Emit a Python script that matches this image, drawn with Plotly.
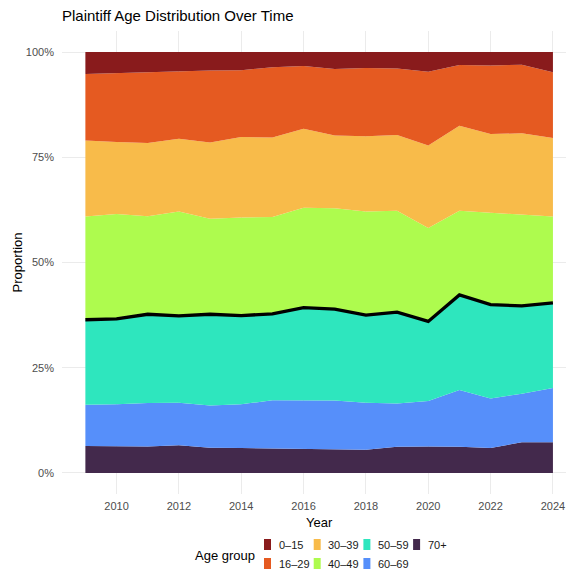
import numpy as np
import plotly.graph_objects as go

# datos (porcentaje por grupo de edad y anio)
years = list(range(2009, 2025))
groups = ["0–15", "16–29", "30–39", "40–49", "50–59", "60–69", "70+"]
colors = ["#891B1C", "#E55A21", "#F8BB4A", "#AEFB4E", "#2EE6BE", "#568FFA", "#43294C"]

g_0_15 = [5.2, 5.0, 4.7, 4.5, 4.4, 4.3, 3.6, 3.3, 4.0, 3.8, 3.9, 4.7, 3.1, 3.2, 3.0, 4.8]
g_16_29 = [15.8, 16.4, 16.9, 16.1, 17.1, 15.9, 16.7, 14.9, 15.8, 16.2, 15.8, 17.5, 14.4, 16.3, 16.3, 15.6]
g_30_39 = [18.1, 17.1, 17.4, 17.3, 18.1, 19.1, 18.9, 18.8, 17.3, 17.9, 18.0, 19.6, 20.2, 18.7, 19.3, 18.7]
g_40_49 = [24.5, 24.9, 23.3, 24.8, 22.7, 23.3, 23.0, 23.7, 24.0, 24.6, 24.1, 22.2, 20.0, 21.8, 21.7, 20.5]
g_50_59 = [20.2, 20.3, 21.1, 20.6, 21.7, 21.1, 20.5, 22.0, 21.7, 20.8, 21.7, 18.9, 22.6, 22.3, 20.9, 20.2]
g_60_69 = [9.8, 10.0, 10.3, 10.1, 10.0, 10.4, 11.5, 11.6, 11.6, 11.2, 10.3, 10.8, 13.5, 11.8, 11.5, 12.9]
g_70 = [6.4, 6.3, 6.3, 6.6, 6.0, 5.9, 5.8, 5.7, 5.6, 5.5, 6.2, 6.3, 6.2, 5.9, 7.3, 7.3]

values = [g_0_15, g_16_29, g_30_39, g_40_49, g_50_59, g_60_69, g_70]
props = [np.array(v) / 100 for v in values]

# geometria del panel en pixeles (para la leyenda armada a mano)
W, H = 566, 572
ML, MR, MT, MB = 62, 0, 31, 78
pw, ph = W - ML - MR, H - MT - MB

def px(x):
    return (x - ML) / pw

def py(y):
    return (H - MB - y) / ph

fig = go.Figure()

# apilado de abajo hacia arriba: 70+ primero
for name, col, p in reversed(list(zip(groups, colors, props))):
    fig.add_trace(go.Scatter(x=years, y=p, name=name, stackgroup="edad",
                             mode="lines", line=dict(width=0), fillcolor=col,
                             showlegend=False))

# linea negra: proporcion 50+
mayores = props[4] + props[5] + props[6]
fig.add_trace(go.Scatter(x=years, y=mayores, mode="lines",
                         line=dict(color="black", width=3.3), showlegend=False))

fuente = "Liberation Sans, Arial, sans-serif"
anotaciones = [
    dict(text="Year", x=2016.5, xref="x", y=py(522), yref="paper", yanchor="middle",
         showarrow=False, font=dict(size=13, color="black")),
    dict(text="Proportion", x=px(17), xref="paper", xanchor="center", y=0.5, yref="y",
         yanchor="middle", textangle=-90, showarrow=False,
         font=dict(size=13, color="black")),
    dict(text="Age group", x=px(193), xref="paper", xanchor="left",
         y=py(555), yref="paper", yanchor="middle", showarrow=False,
         font=dict(size=13, color="black")),
]
formas = []
for i, (name, col) in enumerate(zip(groups, colors)):
    x0 = 264 + 49.7 * (i // 2)
    yc = 544.5 + 19 * (i % 2)
    formas.append(dict(type="rect", xref="paper", yref="paper",
                       x0=px(x0), x1=px(x0 + 7), y0=py(yc + 5.5), y1=py(yc - 5.5),
                       fillcolor=col, line=dict(width=0)))
    anotaciones.append(dict(text=name, x=px(x0 + 12.5), xref="paper", xanchor="left",
                            y=py(yc), yref="paper", yanchor="middle", showarrow=False,
                            font=dict(size=11, color="#1A1A1A")))

fig.update_layout(
    width=W, height=H,
    margin=dict(l=ML, r=MR, t=MT, b=MB),
    paper_bgcolor="white", plot_bgcolor="white",
    font=dict(family=fuente, size=11, color="#4D4D4D"),
    title=dict(text="Plaintiff Age Distribution Over Time", xref="paper", x=0, xanchor="left",
               yref="container", y=1 - 16 / H, yanchor="middle",
               font=dict(size=15, color="black")),
    annotations=anotaciones, shapes=formas,
)
fig.update_xaxes(range=[2008.25, 2008.25 + pw / 31.17], tickvals=list(range(2010, 2025, 2)),
                 showgrid=True, gridcolor="#EBEBEB", gridwidth=1, zeroline=False,
                 showline=False, ticks="", ticklabelstandoff=4,
                 tickfont=dict(color="#4D4D4D", size=11))
fig.update_yaxes(range=[-0.05, 1.05], tickvals=[0, 0.25, 0.5, 0.75, 1], tickformat=".0%",
                 showgrid=True, gridcolor="#EBEBEB", gridwidth=1, zeroline=False,
                 showline=False, ticks="", ticklabelstandoff=7,
                 tickfont=dict(color="#4D4D4D", size=11))

fig.write_html("out.html", config={"displayModeBar": False},
               post_script="document.body.style.margin='0';")
